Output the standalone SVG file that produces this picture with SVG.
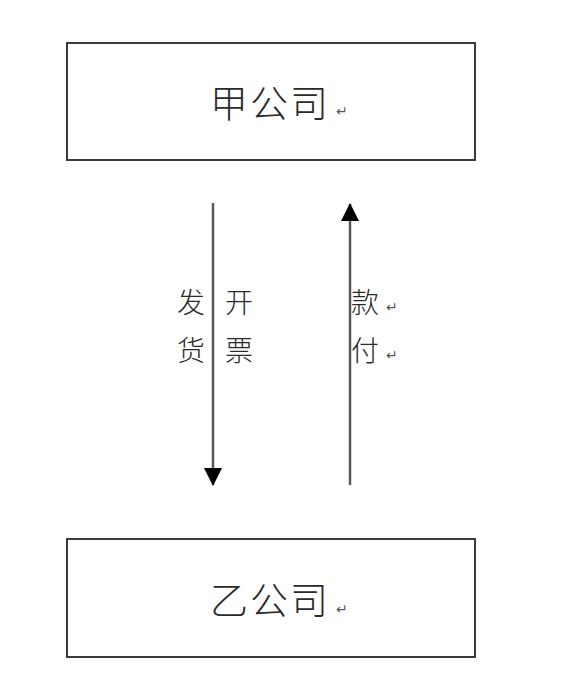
<svg xmlns="http://www.w3.org/2000/svg" width="588" height="700" viewBox="0 0 588 700">
<style>
.box{fill:#ffffff;stroke:#3a3a3a;stroke-width:2}
.t{font-family:"Noto Sans CJK SC","Noto Sans",sans-serif;font-weight:300;fill:#2a2a2a}
.big{font-size:38px;letter-spacing:2px}
.lab{font-size:28px}
.pm{font-family:"DejaVu Sans",sans-serif;font-size:14px;fill:#555}
.ln{stroke:#5a5a5a;stroke-width:2.5;fill:none}
</style>
<defs>
<marker id="ah" viewBox="0 0 18 18" refX="17" refY="9" markerWidth="18" markerHeight="18" markerUnits="userSpaceOnUse" orient="auto">
<path d="M0,0 L18,9 L0,18 Z" fill="#000"/>
</marker>
</defs>
<rect width="588" height="700" fill="#ffffff"/>
<g id="jia">
<rect class="box" x="67" y="43" width="408" height="117"/>
<text class="t big" x="210" y="117">甲公司</text>
<text class="pm" x="336" y="116">↵</text>
</g>
<g id="yi">
<rect class="box" x="67" y="539" width="408" height="118"/>
<text class="t big" x="210" y="614">乙公司</text>
<text class="pm" x="336" y="614">↵</text>
</g>
<g id="connectors">
<line class="ln" x1="213" y1="203" x2="213" y2="485" marker-end="url(#ah)"/>
<line class="ln" x1="350" y1="485" x2="350" y2="204" marker-end="url(#ah)"/>
</g>
<g id="labels">
<text class="t lab" x="177" y="313">发</text>
<text class="t lab" x="177" y="361">货</text>
<text class="t lab" x="225" y="313">开</text>
<text class="t lab" x="225" y="361">票</text>
<text class="t lab" x="351" y="313">款</text>
<text class="pm" x="386" y="312">↵</text>
<text class="t lab" x="351" y="361">付</text>
<text class="pm" x="386" y="360">↵</text>
</g>
</svg>
